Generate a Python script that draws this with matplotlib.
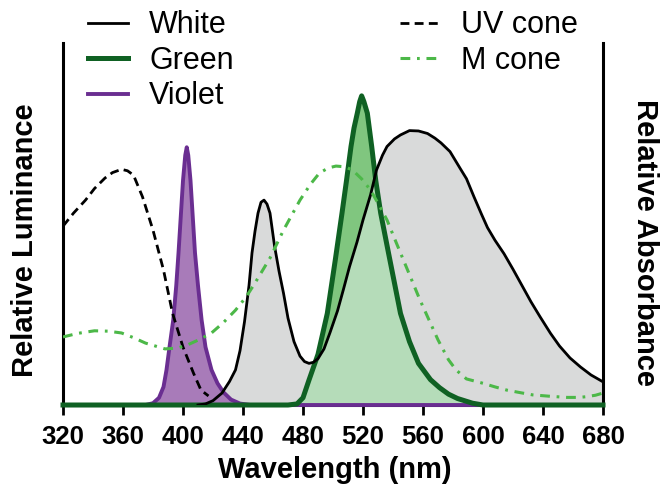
import numpy as np
import matplotlib
matplotlib.use('Agg')
import matplotlib.pyplot as plt

plt.rcParams['font.family'] = ['Liberation Sans', 'DejaVu Sans']

# 스펙트럼 데이터 (파장 nm, 상대값)
white_wl = [410, 415, 420, 426, 431, 435, 438, 441, 444, 446, 448, 450, 452, 454, 456, 458, 461,
            464, 467, 470, 474, 478, 481, 484, 487, 490, 494, 498, 503, 507, 511, 516, 520, 525,
            529, 533, 536, 541, 545, 551, 557, 563, 568, 572, 578, 585, 589, 594, 599, 603, 608,
            614, 620, 626, 632, 638, 645, 651, 658, 665, 672, 680]
white_val = [0, 0.003, 0.012, 0.033, 0.065, 0.097, 0.15, 0.23, 0.33, 0.42, 0.48, 0.53, 0.56, 0.566,
             0.555, 0.53, 0.44, 0.37, 0.309, 0.24, 0.175, 0.135, 0.12, 0.115, 0.118, 0.128, 0.155,
             0.2, 0.26, 0.32, 0.382, 0.45, 0.511, 0.58, 0.649, 0.69, 0.714, 0.735, 0.746, 0.758,
             0.757, 0.75, 0.737, 0.724, 0.7, 0.652, 0.625, 0.575, 0.527, 0.49, 0.455, 0.418, 0.375,
             0.33, 0.285, 0.244, 0.198, 0.163, 0.13, 0.105, 0.083, 0.064]

green_wl = [320, 470, 476, 480, 484, 490, 496.2, 501.5, 506, 509, 512, 514, 516.2, 517.8, 519.1,
            520.6, 522.9, 525.8, 528.5, 531.8, 537, 545, 551, 557, 565, 571, 577, 583, 593, 600, 680]
green_val = [0, 0, 0.003, 0.02, 0.069, 0.14, 0.253, 0.4, 0.53, 0.62, 0.714, 0.765, 0.806, 0.838,
             0.854, 0.838, 0.806, 0.714, 0.62, 0.53, 0.42, 0.253, 0.175, 0.115, 0.07, 0.048, 0.03,
             0.018, 0.005, 0, 0]

violet_wl = [320, 375, 380, 384, 387, 389, 391, 393.5, 395.5, 397, 398.5, 400, 401.5, 402.5, 403.5,
             405, 406.5, 408, 410, 412.4, 415, 419, 423, 427, 432, 438, 445, 680]
violet_val = [0, 0, 0.005, 0.02, 0.05, 0.097, 0.16, 0.235, 0.33, 0.42, 0.52, 0.62, 0.69, 0.712,
              0.69, 0.62, 0.52, 0.42, 0.33, 0.235, 0.16, 0.097, 0.06, 0.035, 0.015, 0.004, 0, 0]

# 원뿔세포 흡광도
uv_wl = [320, 327, 335, 341, 348, 353, 359, 363, 367, 373, 380, 387, 393, 400, 407, 412, 417]
uv_val = [0.494, 0.53, 0.566, 0.598, 0.627, 0.642, 0.651, 0.647, 0.635, 0.575, 0.483, 0.373,
          0.254, 0.16, 0.088, 0.041, 0.025]

m_wl = [320, 330, 341, 350, 359, 367, 375, 388, 396, 403, 411, 419, 427, 435, 442, 448, 458, 467,
        478, 485, 491, 497, 502, 508, 513, 519, 525, 531, 536, 542, 547, 553, 558, 564, 570, 577,
        582, 589, 600, 608, 616, 625, 633, 645, 656, 664, 669, 675, 680]
m_val = [0.188, 0.198, 0.205, 0.204, 0.199, 0.186, 0.171, 0.155, 0.157, 0.166, 0.181, 0.199, 0.228,
         0.262, 0.298, 0.337, 0.406, 0.483, 0.566, 0.61, 0.641, 0.655, 0.66, 0.658, 0.649, 0.625,
         0.594, 0.55, 0.511, 0.45, 0.4, 0.34, 0.29, 0.235, 0.18, 0.125, 0.097, 0.072, 0.06, 0.05,
         0.041, 0.034, 0.028, 0.024, 0.021, 0.021, 0.023, 0.027, 0.033]

xticks = [320, 360, 400, 440, 480, 520, 560, 600, 640, 680]

fig = plt.figure(figsize=(6.66, 4.97), dpi=100)
ax = fig.add_axes([0.0946, 0.1851, 0.8108, 0.7284])

# 채우기
white_fill = ax.fill_between(white_wl, 0, white_val, color='#d9dada', lw=0, zorder=1)
ax.fill_between(green_wl, 0, green_val, color='#80c67f', lw=0, zorder=2)
light = ax.fill_between(green_wl, 0, green_val, color='#b5dcb9', lw=0, zorder=2.1)
light.set_clip_path(white_fill.get_paths()[0], ax.transData)
ax.fill_between(violet_wl, 0, violet_val, color='#a87bb9', lw=0, zorder=2.2)

# 선
l_violet, = ax.plot(violet_wl, violet_val, color='#6a2e91', lw=2.8, zorder=3,
                    clip_on=False, solid_joinstyle='round')
l_green, = ax.plot(green_wl, green_val, color='#0f6123', lw=3.6, zorder=3.1,
                   clip_on=False, solid_joinstyle='round')
l_white, = ax.plot(white_wl, white_val, color='black', lw=2.0, zorder=3.2,
                   solid_joinstyle='round')
l_uv, = ax.plot(uv_wl, uv_val, color='black', lw=2.0, ls=(0, (3.2, 1.9)), zorder=4)
l_m, = ax.plot(m_wl, m_val, color='#4cb848', lw=2.2, ls=(0, (3.2, 2.2, 0.9, 2.2)), zorder=4)

ax.set_xlim(320, 680)
ax.set_ylim(0, 1)
ax.set_xticks(xticks)
ax.set_yticks([])
ax.spines['top'].set_visible(False)
for s in ['left', 'right', 'bottom']:
    ax.spines[s].set_linewidth(2.2)
ax.tick_params(axis='x', direction='out', length=7.5, width=2, pad=7, labelsize=18.5)
for lab in ax.get_xticklabels():
    lab.set_fontweight('bold')

fig.text(0.0375, 0.517, 'Relative Luminance', rotation=90, ha='center', va='center',
         fontsize=21, fontweight='bold')
fig.text(0.968, 0.513, 'Relative Absorbance', rotation=270, ha='center', va='center',
         fontsize=21, fontweight='bold')
fig.text(0.503, 0.054, 'Wavelength (nm)', ha='center', va='center',
         fontsize=21, fontweight='bold')

fig.legend([l_white, l_green, l_violet, l_uv, l_m],
           ['White', 'Green', 'Violet', 'UV cone', 'M cone'],
           ncol=2, loc='upper left', bbox_to_anchor=(0.132, 0.979), frameon=False,
           fontsize=22, borderpad=0, borderaxespad=0, handlelength=1.3, handletextpad=0.7,
           columnspacing=5.45, labelspacing=0.18)

fig.savefig('out.png', dpi=100)
